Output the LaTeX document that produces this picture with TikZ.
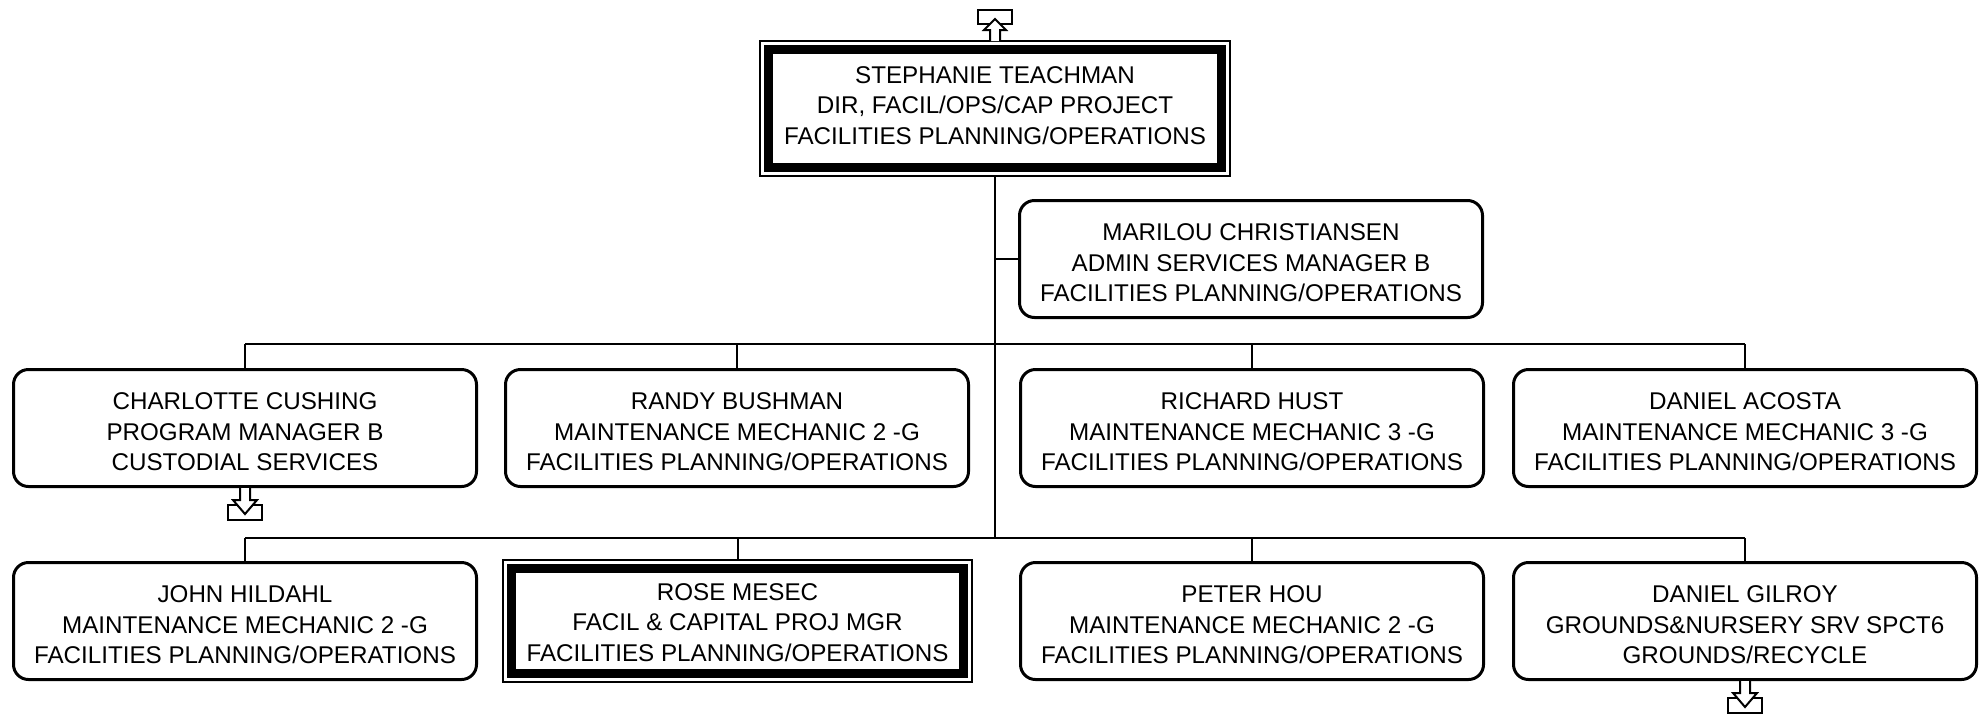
\documentclass[tikz,border=0pt]{standalone}
\usepackage{fontspec}
\setmainfont{Liberation Sans}
\newcommand{\toprl}{\rule{0pt}{12.5pt}}
\newcommand{\midrl}{\rule{0pt}{10pt}}
\newcommand{\botrl}{\rule[-3pt]{0pt}{0pt}}
\begin{document}
\begin{tikzpicture}[x=0.5pt,y=-0.5pt,
  txt/.style={align=center, font=\fontsize{12.1}{15.2}\selectfont, inner sep=0pt},
  person/.style={txt, draw, line width=1.5pt, rounded corners=7.5pt, minimum width=231.5pt, minimum height=58.5pt},
  headin/.style={txt, draw, line width=4.5pt, outer sep=0pt},
  headout/.style={draw, line width=1pt, outer sep=0pt, inner sep=0pt},
  link/.style={line width=1pt},
  uparrow/.pic={
    \draw[line width=1pt, fill=white] (-17,-31) rectangle (17,-17);
    \draw[line width=1pt, fill=white] (-5,0) -- (-5,-11) -- (-11,-11) -- (0,-22) -- (11,-11) -- (5,-11) -- (5,0);
  },
  downarrow/.pic={
    \draw[line width=1pt, fill=white] (-17,17) rectangle (17,32);
    \draw[line width=1pt, fill=white] (-5,0) -- (-5,12) -- (-12,12) -- (0,26) -- (12,12) -- (5,12) -- (5,0);
  }
]
\useasboundingbox (0,0) rectangle (1986,713);

% top box (double frame)
\node[headout, minimum width=235pt, minimum height=67.5pt] (stout) at (995,108.5) {};
\node[headin, minimum width=226.5pt, minimum height=59pt] (st) at (995,108.5)
  {STEPHANIE TEACHMAN\\DIR, FACIL/OPS/CAP PROJECT\\FACILITIES PLANNING/OPERATIONS\botrl};

% assistant
\node[person] (ma) at (1251,259)
  {\toprl MARILOU CHRISTIANSEN\\ADMIN SERVICES MANAGER B\\FACILITIES PLANNING/OPERATIONS};

% row 1
\node[person] (cc) at (245,428) {\toprl CHARLOTTE CUSHING\\PROGRAM MANAGER B\\CUSTODIAL SERVICES};
\node[person] (rb) at (737,428) {\toprl RANDY BUSHMAN\\MAINTENANCE MECHANIC 2 -G\\FACILITIES PLANNING/OPERATIONS};
\node[person] (rh) at (1252,428) {\toprl RICHARD HUST\\MAINTENANCE MECHANIC 3 -G\\FACILITIES PLANNING/OPERATIONS};
\node[person] (da) at (1745,428) {\toprl DANIEL ACOSTA\\MAINTENANCE MECHANIC 3 -G\\FACILITIES PLANNING/OPERATIONS};

% row 2
\node[person] (jh) at (245,621) {\toprl JOHN HILDAHL\\MAINTENANCE MECHANIC 2 -G\\FACILITIES PLANNING/OPERATIONS};
\node[headout, minimum width=234.5pt, minimum height=61pt] (rmout) at (737.5,621) {};
\node[headin, minimum width=226pt, minimum height=52.5pt] (rm) at (737.5,621)
  {\midrl ROSE MESEC\\FACIL \& CAPITAL PROJ MGR\\FACILITIES PLANNING/OPERATIONS};
\node[person] (ph) at (1252,621) {\toprl PETER HOU\\MAINTENANCE MECHANIC 2 -G\\FACILITIES PLANNING/OPERATIONS};
\node[person] (dg) at (1745,621) {\toprl DANIEL GILROY\\GROUNDS\&NURSERY SRV SPCT6\\GROUNDS/RECYCLE};

% connectors
\coordinate (b1) at (995,344);
\coordinate (b2) at (995,538);
\draw[link] (stout.south) -- (b2);
\draw[link] (stout.south |- ma.west) -- (ma.west);
\draw[link] (cc.north |- b1) -- (da.north |- b1);
\draw[link] (cc.north |- b2) -- (dg.north |- b2);
\foreach \n in {cc,rb,rh,da} { \draw[link] (\n.north |- b1) -- (\n.north); }
\foreach \n in {jh,ph,dg} { \draw[link] (\n.north |- b2) -- (\n.north); }
\draw[link] (rmout.north |- b2) -- (rmout.north);

% off-page arrows
\pic at (stout.north) {uparrow};
\pic at (cc.south) {downarrow};
\pic at (dg.south) {downarrow};
\end{tikzpicture}
\end{document}
